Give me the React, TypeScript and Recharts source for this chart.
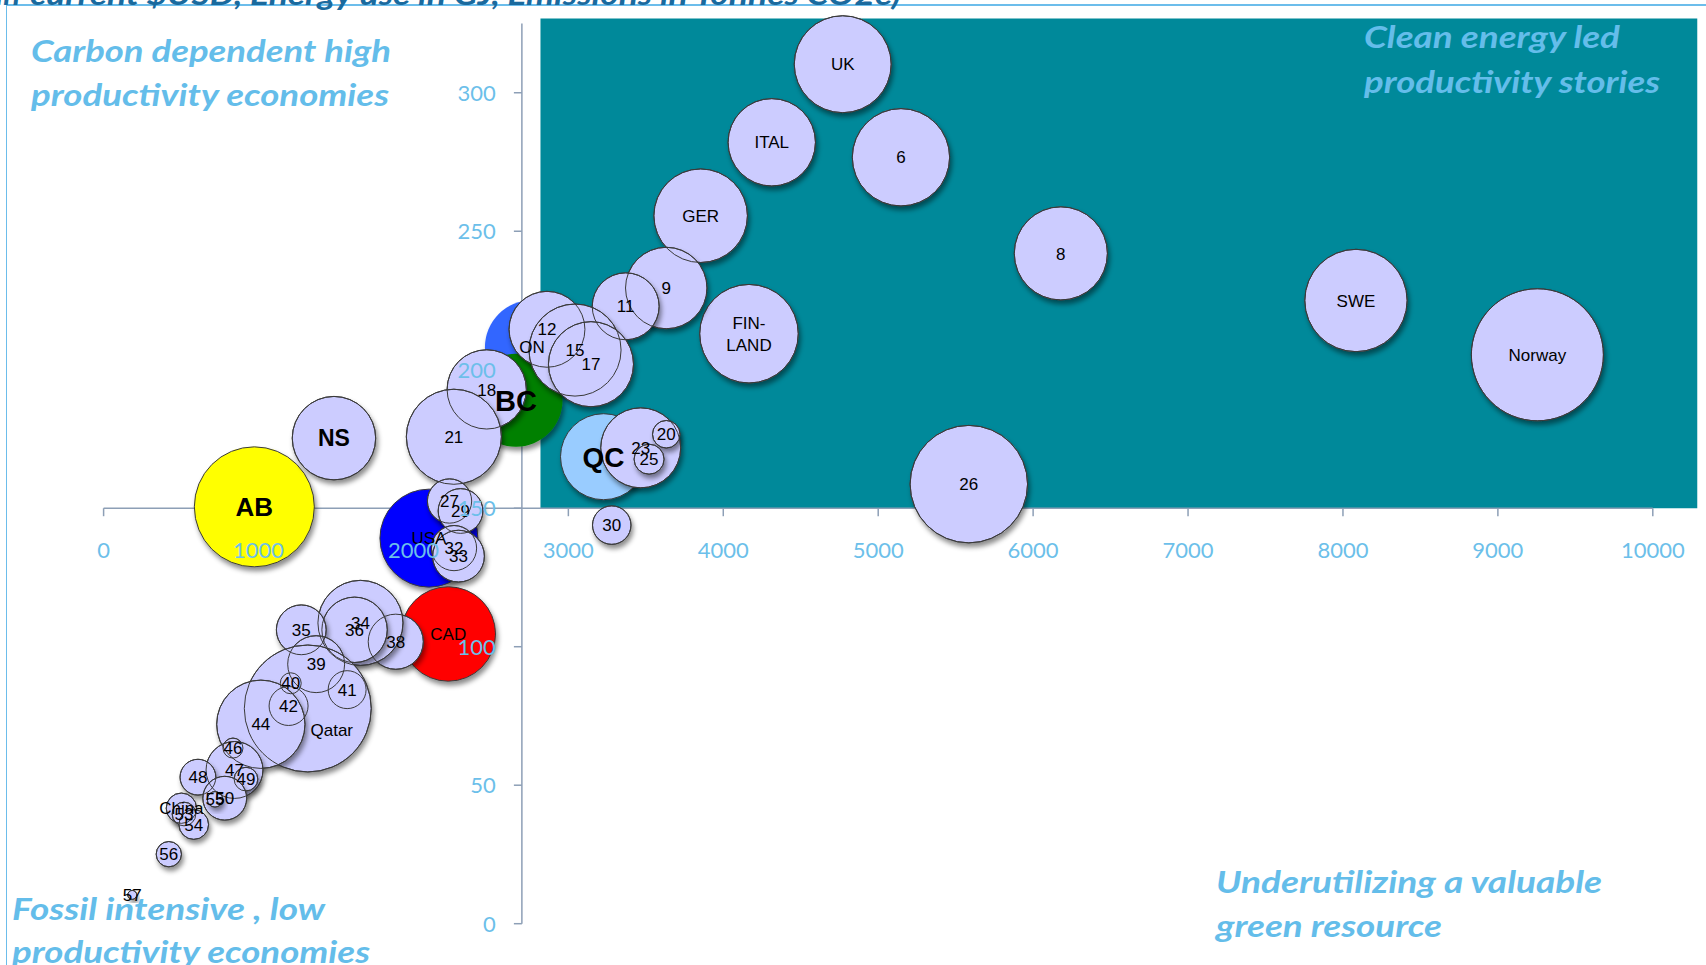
import React from "react"
import {
  ScatterChart,
  Scatter,
  XAxis,
  YAxis,
  ZAxis,
  ReferenceArea,
  ReferenceLine,
  ReferenceDot,
} from "recharts"

// bubble labels, in drawing order
const names = [
  "UK", "ITAL", "6", "GER", "8", "SWE", "Norway", "FIN-LAND", "26", "9",
  "11", "ON", "12", "15", "17", "18", "BC", "21", "QC", "23",
  "20", "25", "30", "NS", "AB", "27", "29", "USA", "32", "33",
  "CAD", "38", "34", "36", "35", "39", "40", "41", "42", "Qatar",
  "44", "46", "47", "49", "48", "50", "55", "China", "53", "54",
  "56", "57",
]

// x value per bubble
const xValues = [
  4771, 4313, 5147, 3854, 6179, 8084, 9255, 4166, 5585, 3632,
  3370, 2765, 2862, 3043, 3146, 2473, 2662, 2261, 3227, 3467,
  3632, 3521, 3280, 1487, 973, 2233, 2304, 2100, 2262, 2291,
  2225, 1886, 1658, 1620, 1276, 1372, 1208, 1572, 1194, 1318,
  1015, 835, 845, 919, 609, 782, 719, 502, 519, 582,
  421, 185,
]

// y value per bubble
const yValues = [
  310.3, 282.1, 276.7, 255.6, 242.0, 225.0, 205.4, 213.0, 158.7, 229.5,
  222.9, 208.1, 214.6, 207.1, 202.0, 192.9, 189.0, 175.8, 168.6, 171.8,
  176.7, 167.7, 143.9, 175.3, 150.5, 152.6, 149.0, 139.2, 135.6, 132.7,
  104.6, 101.8, 108.6, 106.1, 106.1, 93.7, 86.8, 84.5, 78.6, 77.7,
  72.0, 63.4, 55.5, 52.2, 52.9, 45.3, 44.9, 41.7, 39.6, 35.8,
  25.1, 10.4,
]

// bubble size (area) per bubble
const sizes = [
  23.5, 19.1, 23.7, 21.9, 21.7, 26.2, 43.6, 24.3, 34.5, 16.6,
  11.2, 22.1, 14.4, 21.2, 18.1, 15.7, 21.6, 22.6, 18.5, 16.0,
  1.9, 2.25, 3.7, 17.4, 36.0, 4.9, 5.0, 24.0, 5.1, 6.7,
  22.3, 7.6, 18.1, 10.7, 6.2, 8.1, 1.1, 3.6, 3.8, 40.3,
  19.5, 1.0, 8.1, 1.4, 3.2, 4.8, 0.6, 2.3, 1.4, 2.2,
  1.6, 0.2,
]

const xTicks = [0, 1000, 2000, 3000, 4000, 5000, 6000, 7000, 8000, 9000, 10000]
const yTicks = [0, 50, 100, 150, 200, 250, 300]

const xCross = 2700
const yCross = 150

const points = names.map((name, i) => ({ name, x: xValues[i], y: yValues[i], z: sizes[i] }))

const fillFor: Record<string, string> = {
  ON: "#3366FF",
  BC: "#008000",
  AB: "#FFFF00",
  USA: "#0000FF",
  CAD: "#FF0000",
  QC: "#99CCFF",
}
const coloredOrder = ["ON", "BC", "AB", "USA", "CAD", "QC"]
const coloredPoints = coloredOrder.map((n) => points.find((p) => p.name === n)!)
const lavenderPoints = points.filter((p) => !fillFor[p.name])

const boldLabel: Record<string, number> = { AB: 26, NS: 23, BC: 29, QC: 28 }
const labelNudge: Record<string, [number, number]> = { Qatar: [24, 21] }

const LAVENDER = "#CCCCFF"
const EDGE = "#3a3a3a"
const AXIS = "#8D9FB6"
const TICK_TEXT = "#6CBFEA"
const NOTE = "#64BDEA"
const TEAL = "#00899A"

const radiusOf = (p: any) => (p.width ? p.width / 2 : Math.sqrt(Math.max(p.size || 0, 0) / Math.PI))

function FillBubble(p: any) {
  const name = p.payload?.name
  const fill = fillFor[name] ?? LAVENDER
  const edged = name !== "ON" && name !== "BC"
  return (
    <circle
      cx={p.cx}
      cy={p.cy}
      r={radiusOf(p)}
      fill={fill}
      stroke={edged ? EDGE : "none"}
      strokeWidth={1}
      filter="url(#bubbleShadow)"
    />
  )
}

function OutlineBubble(p: any) {
  return <circle cx={p.cx} cy={p.cy} r={radiusOf(p)} fill="none" stroke={EDGE} strokeWidth={1} />
}

function BubbleLabel(p: any) {
  const name: string = p.payload?.name
  const size = boldLabel[name] ?? 17
  const weight = boldLabel[name] ? 700 : 400
  const [dx, dy] = labelNudge[name] ?? [0, 0]
  const lines = name === "FIN-LAND" ? ["FIN-", "LAND"] : [name]
  const lh = 22
  return (
    <text
      textAnchor="middle"
      fontFamily="'Liberation Sans', Arial, sans-serif"
      fontSize={size}
      fontWeight={weight}
      fill="#000"
    >
      {lines.map((l, i) => (
        <tspan key={i} x={p.cx + dx} y={p.cy + dy + size * 0.36 + (i - (lines.length - 1) / 2) * lh}>
          {l}
        </tspan>
      ))}
    </text>
  )
}

const notes = [
  { text: "Carbon dependent high", x: 31, y: 62, len: 360 },
  { text: "productivity economies", x: 31, y: 106, len: 358 },
  { text: "Clean energy led", x: 1364, y: 48, len: 256 },
  { text: "productivity stories", x: 1364, y: 93, len: 296 },
  { text: "Fossil intensive , low", x: 12, y: 920, len: 313 },
  { text: "productivity economies", x: 12, y: 963, len: 358 },
  { text: "Underutilizing a valuable", x: 1216, y: 893, len: 386 },
  { text: "green resource", x: 1216, y: 937, len: 226 },
]

export default function App() {
  return (
    <div
      style={{
        position: "fixed",
        left: 0,
        top: 0,
        width: 1706,
        height: 965,
        overflow: "hidden",
        background: "#fff",
      }}
    >
      <svg width={0} height={0} style={{ position: "absolute" }}>
        <defs>
          <filter id="bubbleShadow" x="-30%" y="-30%" width="160%" height="170%">
            <feDropShadow dx={2} dy={4} stdDeviation={2.5} floodColor="#000" floodOpacity={0.45} />
          </filter>
        </defs>
      </svg>

      {/* frame */}
      <div
        style={{
          position: "absolute",
          left: 6,
          top: 4,
          width: 1720,
          height: 1000,
          borderLeft: "1.5px solid #6CBDEB",
          borderTop: "2px solid #6CBDEB",
        }}
      />

      <div style={{ position: "absolute", left: 0, top: 0 }}>
        <ScatterChart width={1706} height={965} margin={{ top: 23.5, right: 53.2, bottom: 41.3, left: 103.6 }}>
          <XAxis type="number" dataKey="x" domain={[0, 10000]} hide />
          <YAxis type="number" dataKey="y" domain={[0, 325]} hide />
          <ZAxis type="number" dataKey="z" domain={[0, 100]} range={[0, Math.PI * 10000]} />

          <ReferenceArea
            x1={2820}
            x2={10287}
            y1={yCross}
            y2={326.8}
            fill={TEAL}
            fillOpacity={1}
            stroke="none"
            ifOverflow="visible"
          />
          <ReferenceLine y={yCross} stroke={AXIS} strokeWidth={1.5} ifOverflow="visible" />
          <ReferenceLine x={xCross} stroke={AXIS} strokeWidth={1.5} ifOverflow="visible" />
          {xTicks.map((t) => (
            <ReferenceDot
              key={"xt" + t}
              x={t}
              y={yCross}
              r={0}
              ifOverflow="visible"
              shape={(p: any) => <line x1={p.cx} y1={p.cy} x2={p.cx} y2={p.cy + 8} stroke={AXIS} strokeWidth={1.5} />}
            />
          ))}
          {yTicks.map((t) => (
            <ReferenceDot
              key={"yt" + t}
              x={xCross}
              y={t}
              r={0}
              ifOverflow="visible"
              shape={(p: any) => <line x1={p.cx - 8} y1={p.cy} x2={p.cx} y2={p.cy} stroke={AXIS} strokeWidth={1.5} />}
            />
          ))}

          <Scatter data={coloredPoints} shape={FillBubble} isAnimationActive={false} />
          <Scatter data={lavenderPoints} shape={FillBubble} isAnimationActive={false} />
          <Scatter data={lavenderPoints} shape={OutlineBubble} isAnimationActive={false} />
          <Scatter data={points} shape={BubbleLabel} isAnimationActive={false} />

          {xTicks.map((t) => (
            <ReferenceDot
              key={"xl" + t}
              x={t}
              y={yCross}
              r={0}
              ifOverflow="visible"
              shape={(p: any) => (
                <text x={p.cx} y={p.cy + 50} textAnchor="middle" fontFamily="Lato, sans-serif" fontSize={22} fill={TICK_TEXT}>
                  {t}
                </text>
              )}
            />
          ))}
          {yTicks.map((t) => (
            <ReferenceDot
              key={"yl" + t}
              x={xCross}
              y={t}
              r={0}
              ifOverflow="visible"
              shape={(p: any) => (
                <text x={p.cx - 26} y={p.cy + 8} textAnchor="end" fontFamily="Lato, sans-serif" fontSize={22} fill={TICK_TEXT}>
                  {t}
                </text>
              )}
            />
          ))}
        </ScatterChart>
      </div>

      <svg width={1706} height={965} style={{ position: "absolute", left: 0, top: 0, pointerEvents: "none" }}>
        <g fontFamily="Lato, sans-serif" fontStyle="italic" fontWeight={700} fontSize={31} fill="#1A6A9E">
          <text x={20} y={5} textAnchor="end">
            (GDP per capita in
          </text>
          <text x={30} y={5} textLength={871} lengthAdjust="spacingAndGlyphs">
            current $USD, Energy use in GJ, Emissions in Tonnes CO2e)
          </text>
        </g>
        {notes.map((n, i) => (
          <text
            key={i}
            x={n.x}
            y={n.y}
            textLength={n.len}
            lengthAdjust="spacingAndGlyphs"
            fontFamily="Lato, sans-serif"
            fontStyle="italic"
            fontWeight={700}
            fontSize={31}
            fill={NOTE}
          >
            {n.text}
          </text>
        ))}
      </svg>
    </div>
  )
}
